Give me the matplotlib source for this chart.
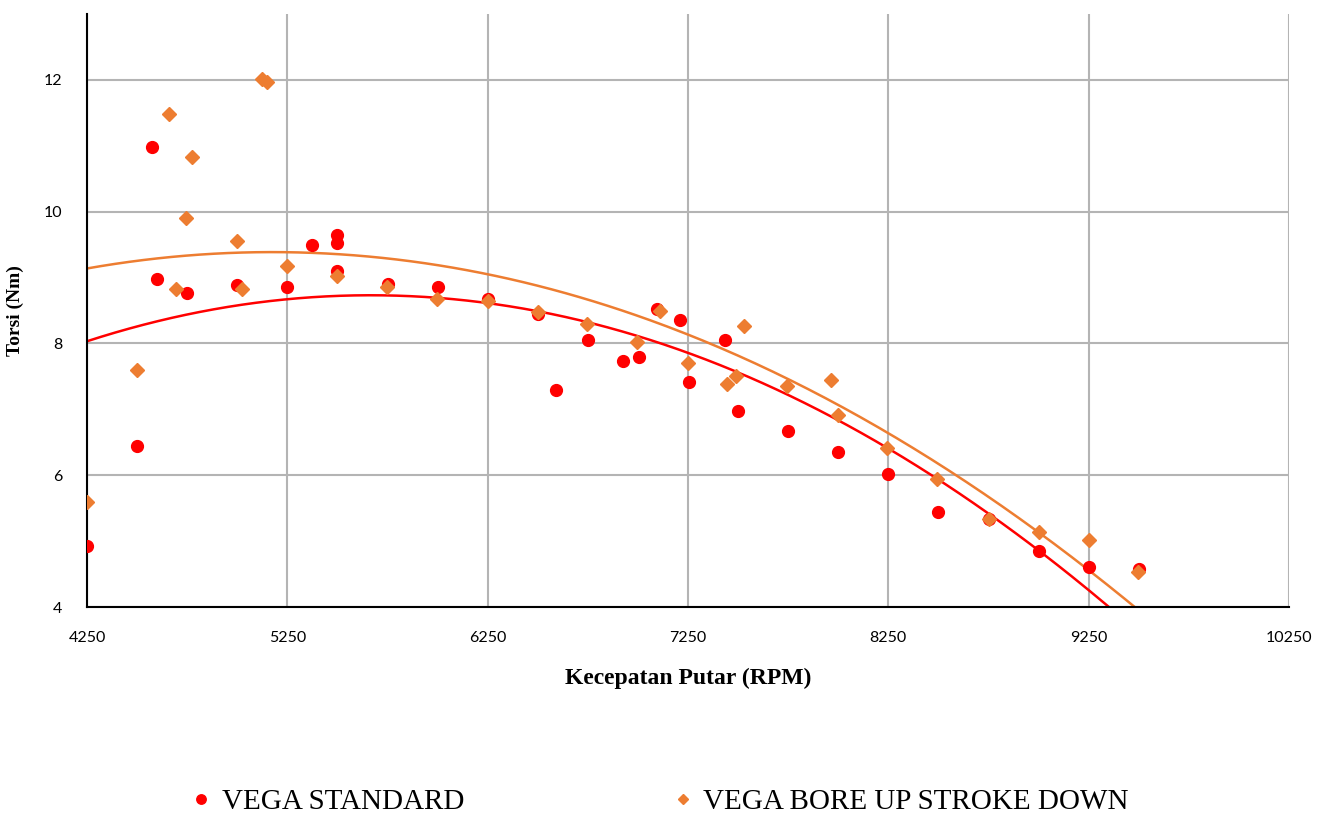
import numpy as np
import matplotlib
matplotlib.use("Agg")
from matplotlib import pyplot as plt

# VEGA STANDARD
rpm_std = [4250, 4500, 4575, 4600, 4750, 5000, 5250, 5375, 5500, 5500, 5500,
           5750, 6000, 6250, 6500, 6590, 6750, 6925, 7005, 7095, 7210, 7255,
           7435, 7500, 7750, 8000, 8250, 8500, 8750, 9000, 9250, 9500]
torsi_std = [4.92, 6.44, 10.98, 8.98, 8.77, 8.88, 8.86, 9.50, 9.65, 9.53, 9.10,
             8.90, 8.85, 8.67, 8.45, 7.30, 8.05, 7.74, 7.80, 8.53, 8.36, 7.42,
             8.05, 6.98, 6.67, 6.36, 6.02, 5.44, 5.33, 4.85, 4.61, 4.58]

# VEGA BORE UP STROKE DOWN
rpm_bore = [4250, 4500, 4660, 4775, 4745, 4695, 5000, 5025, 5125, 5150, 5250,
            5500, 5745, 5995, 6250, 6500, 6745, 6995, 7110, 7250, 7445, 7490,
            7530, 7745, 7965, 8000, 8245, 8495, 8750, 9000, 9250, 9495]
torsi_bore = [5.59, 7.59, 11.48, 10.83, 9.91, 8.82, 9.56, 8.82, 12.02, 11.97, 9.18,
              9.03, 8.86, 8.67, 8.64, 8.48, 8.29, 8.02, 8.50, 7.70, 7.38, 7.50,
              8.27, 7.35, 7.45, 6.92, 6.41, 5.94, 5.33, 5.14, 5.02, 4.53]

x_ticks = [4250, 5250, 6250, 7250, 8250, 9250, 10250]
y_ticks = [4, 6, 8, 10, 12]

red = "#ff0000"
orange = "#ed7d31"

fig = plt.figure(figsize=(13.21, 8.15), dpi=100)
ax = fig.add_axes([0.0659, 0.2552, 0.9099, 0.7276])

# polynomial (order 2) trendlines, like excel
xx = np.linspace(4250, 9500, 300)
c_std = np.polyfit(rpm_std, torsi_std, 2)
c_bore = np.polyfit(rpm_bore, torsi_bore, 2)
ax.plot(xx, np.polyval(c_bore, xx), color=orange, lw=1.8, zorder=2)
ax.plot(xx, np.polyval(c_std, xx), color=red, lw=1.8, zorder=2)

ax.plot(rpm_std, torsi_std, "o", color=red, ms=8.5, ls="none", zorder=3,
        label="VEGA STANDARD")
ax.plot(rpm_bore, torsi_bore, "D", color=orange, ms=7, ls="none", zorder=4,
        label="VEGA BORE UP STROKE DOWN")

ax.set_xlim(4250, 10250)
ax.set_ylim(4, 13)
ax.set_xticks(x_ticks)
ax.set_yticks(y_ticks)
ax.grid(True, color="#b4b4b4", lw=1.5)
ax.set_axisbelow(True)
for s in ["top", "right"]:
    ax.spines[s].set_visible(False)
ax.spines["left"].set_linewidth(1.5)
ax.spines["bottom"].set_linewidth(1.5)
ax.tick_params(length=0, labelsize=11.5)
ax.tick_params(axis="x", pad=17)
ax.tick_params(axis="y", pad=18)
for lab in ax.get_xticklabels() + ax.get_yticklabels():
    lab.set_family("Lato")

ax.set_xlabel("Kecepatan Putar (RPM)", family="Liberation Serif", fontweight="bold",
              fontsize=17, labelpad=17)
ax.set_ylabel("Torsi (Nm)", family="Liberation Serif", fontweight="bold",
              fontsize=14, labelpad=14)

fig.legend(loc="center", bbox_to_anchor=(0.498, 13 / 815), ncol=2, frameon=False,
           prop={"family": "Liberation Serif", "size": 21}, columnspacing=7,
           handlelength=1, handletextpad=0.2, markerscale=0.8)

fig.savefig("out.png", dpi=100)
